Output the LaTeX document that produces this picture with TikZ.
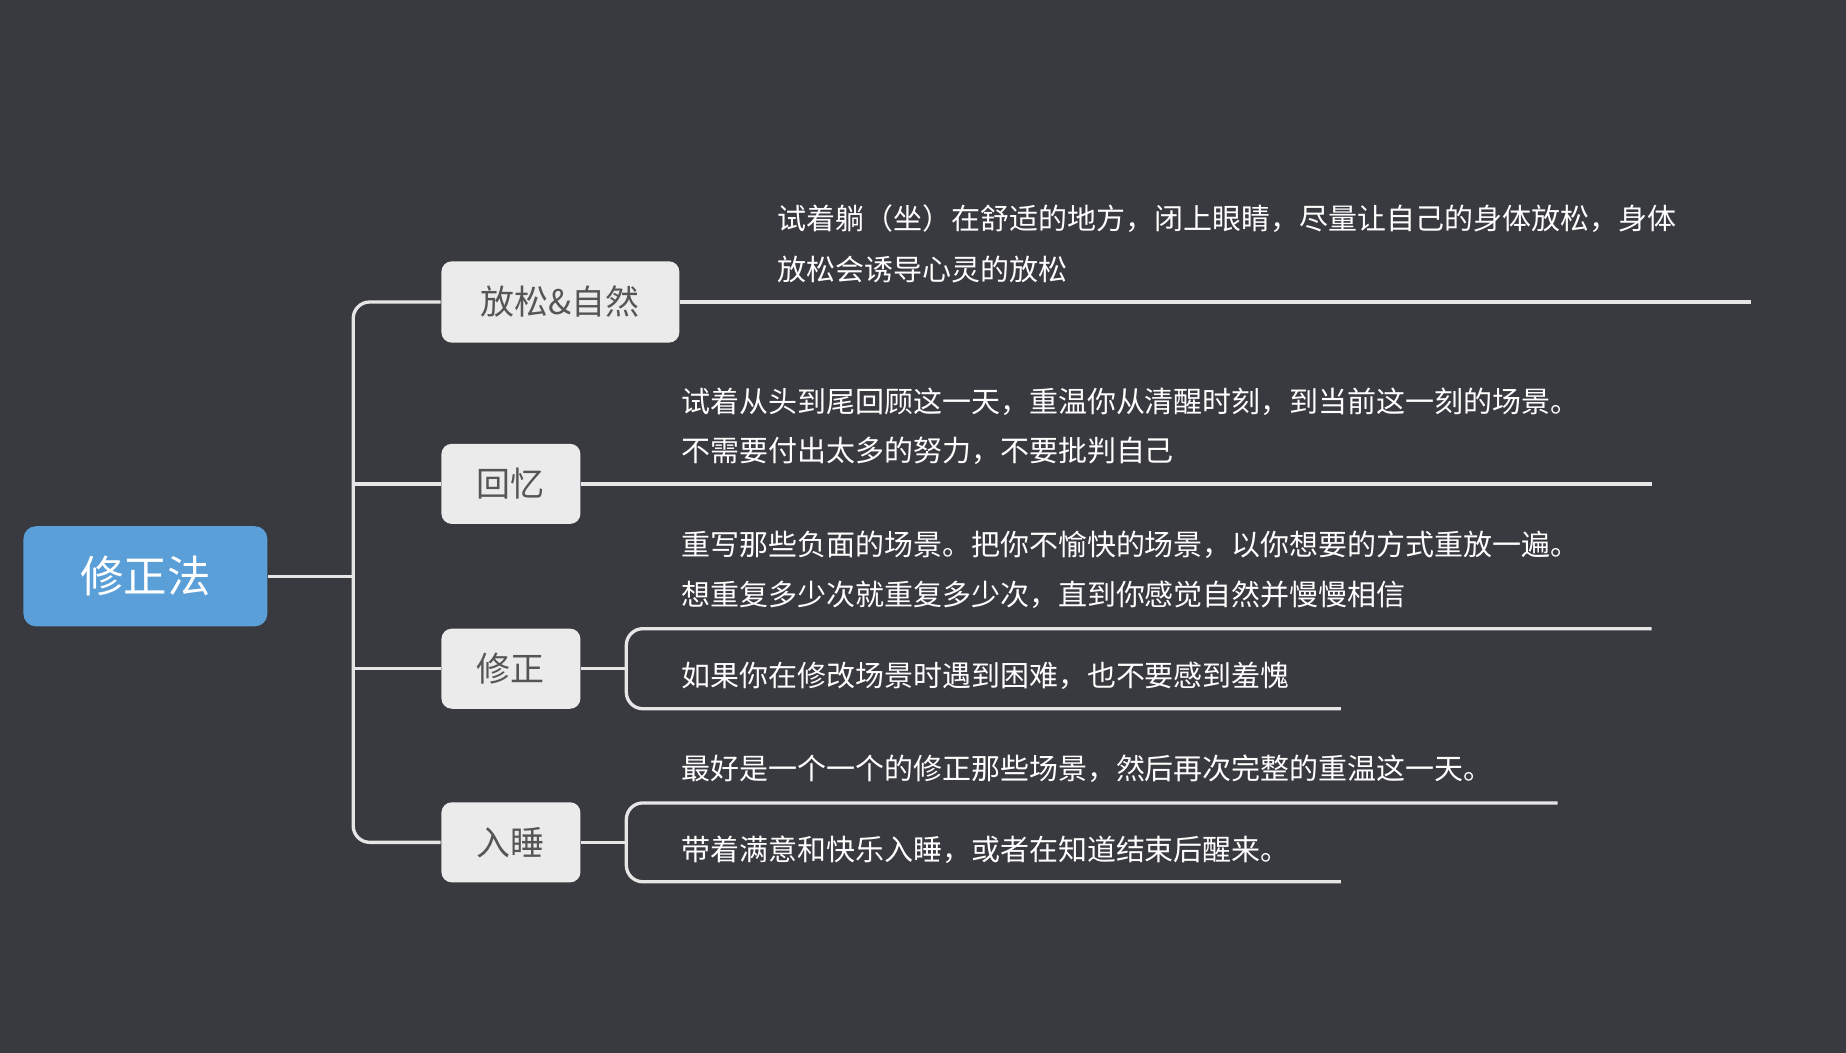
\documentclass[tikz,border=0pt]{standalone}
\usepackage{fontspec}
\setmainfont{Noto Sans CJK SC}
\begin{document}
\begin{tikzpicture}[x=0.01cm,y=-0.01cm,
  ln/.style={draw=linec,line width=0.8pt,rounded corners=4pt},
  sub/.style={fill=nodef,rounded corners=2.5pt,text=nodet,font=\fontsize{8.2}{9}\selectfont,inner sep=0pt},
  tx/.style={anchor=west,text=white,font=\fontsize{7}{8}\selectfont,inner sep=0pt}]
\definecolor{bg}{HTML}{393A3F}
\definecolor{linec}{HTML}{E6E6E6}
\definecolor{nodef}{HTML}{EBEBEB}
\definecolor{nodet}{HTML}{555555}
\definecolor{rootc}{HTML}{5A9FD8}
\fill[bg] (0,0) rectangle (1568,894);
\useasboundingbox (0,0) rectangle (1568,894);
\node[fill=rootc,rounded corners=3pt,minimum width=2.07cm,minimum height=0.85cm,text=white,font=\fontsize{10.5}{12}\selectfont] (root) at (123.5,489.5) {修正法};
\node[sub,minimum width=2.02cm,minimum height=0.69cm] (n1) at (476,256.5) {放松\&自然};
\node[sub,minimum width=1.18cm,minimum height=0.68cm] (n2) at (434,411) {回忆};
\node[sub,minimum width=1.18cm,minimum height=0.68cm] (n3) at (434,568) {修正};
\node[sub,minimum width=1.18cm,minimum height=0.68cm] (n4) at (434,715.5) {入睡};
\coordinate (j) at (300,489.5);
\draw[ln] (root.east) -- (j);
\draw[ln] (n1.west) -- (300,256.5) -- (300,715.5) -- (n4.west);
\draw[ln] (n2.west) -- (300,411);
\draw[ln] (n3.west) -- (300,568);
\coordinate (e1) at (1487,256.5);
\coordinate (e2) at (1403,411);
\draw[ln] (n1.east) -- (e1);
\draw[ln] (n2.east) -- (e2);
\coordinate (e3a) at (1403,534); \coordinate (e3b) at (1139,602);
\draw[ln] (n3.east) -- (532,568);
\draw[ln] (e3a) -- (532,534) -- (532,602) -- (e3b);
\coordinate (e4a) at (1323,682); \coordinate (e4b) at (1139,749);
\draw[ln] (n4.east) -- (532,715.5);
\draw[ln] (e4a) -- (532,682) -- (532,749) -- (e4b);
\node[tx] (t1a) at (660,186) {试着躺（坐）在舒适的地方，闭上眼睛，尽量让自己的身体放松，身体};
\node[tx] (t1b) at (660,229) {放松会诱导心灵的放松};
\node[tx] (t2a) at (578,341) {试着从头到尾回顾这一天，重温你从清醒时刻，到当前这一刻的场景。};
\node[tx] (t2b) at (578,383) {不需要付出太多的努力，不要批判自己};
\node[tx] (t3a) at (578,463) {重写那些负面的场景。把你不愉快的场景，以你想要的方式重放一遍。};
\node[tx] (t3b) at (578,505) {想重复多少次就重复多少次，直到你感觉自然并慢慢相信};
\node[tx] (t3c) at (578,574) {如果你在修改场景时遇到困难，也不要感到羞愧};
\node[tx] (t4a) at (578,653) {最好是一个一个的修正那些场景，然后再次完整的重温这一天。};
\node[tx] (t4b) at (578,722) {带着满意和快乐入睡，或者在知道结束后醒来。};
\end{tikzpicture}
\end{document}
